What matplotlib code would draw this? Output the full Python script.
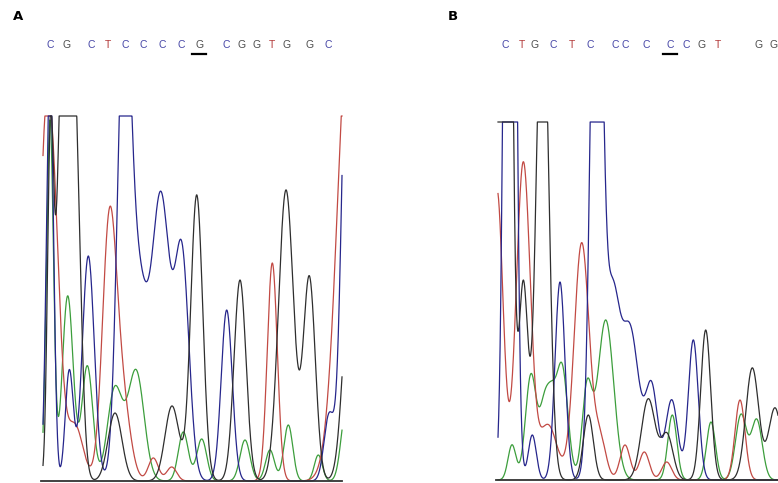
import numpy as np
import matplotlib
matplotlib.use('Agg')
from matplotlib import pyplot as plt

# Chromatogram traces, read off the picture as peaks: scan position, height, width
# channel colours follow the usual convention G=black, C=blue, T=red, A=green

# --- panel A ---
a_scan = (43, 342)
a_top = 365
a_g_pos = [50.5, 64, 75, 115, 172, 196.7, 240, 286, 309.3, 350]
a_g_ht = [330, 500, 330, 68, 75, 286, 201, 291, 203, 200]
a_g_wd = [3, 6, 5.5, 7, 7, 6, 6, 7.5, 6, 7]
a_c_pos = [50, 69.3, 88.3, 124, 138, 161, 182, 226.7, 329, 348]
a_c_ht = [420, 110, 225, 450, 190, 280, 220, 171, 65, 500]
a_c_wd = [3.5, 4, 6, 6.5, 9, 9, 7, 5.5, 5, 6]
a_t_pos = [43, 50, 75, 109.3, 122, 153.3, 171.7, 272.3, 350]
a_t_ht = [80, 360, 55, 250, 80, 23, 14, 218, 480]
a_t_wd = [4, 8, 8, 7, 8, 5, 5, 5, 12]
a_a_pos = [50, 67.7, 87.3, 114, 122, 136, 183.3, 201.7, 245, 270, 288.3, 318.3, 346]
a_a_ht = [360, 185, 115, 85, 15, 110, 49, 42, 41, 31, 56, 26, 70]
a_a_wd = [3.5, 5.5, 5.5, 7, 6, 8, 5, 5, 5, 4.5, 4.5, 4, 5]
a_bases = list('CGCTCCCCGCGGTGGC')
a_base_pos = [50, 66.7, 91.7, 108.3, 125, 143.3, 162.3, 181.7, 199.3, 226.7, 241.7, 256.7, 271.7, 286.7, 310, 328.3]
a_mark = 8

# --- panel B ---
b_scan = (498, 778)
b_top = 358
b_g_pos = [505, 523.3, 542.5, 588.3, 648.3, 667, 705.7, 752.3, 775]
b_g_ht = [1500, 195, 520, 65, 81, 45, 150, 112, 72]
b_g_wd = [5, 4.5, 6, 5, 7, 6, 5, 6.5, 6.5]
b_c_pos = [510, 532.3, 560, 596.5, 612, 630, 651.7, 671.7, 693.3]
b_c_ht = [1500, 45, 198, 700, 170, 150, 90, 80, 140]
b_c_wd = [4.5, 4, 5, 5.5, 7, 9, 6, 6, 5]
b_t_pos = [497, 523.3, 548, 581.7, 600, 625, 644.3, 666.7, 740]
b_t_ht = [290, 317, 55, 237, 40, 35, 28, 18, 80]
b_t_wd = [6, 7, 9, 7.5, 6, 5, 5, 5, 5]
b_a_pos = [512, 531, 545, 552, 561.7, 587, 605.7, 672.3, 711, 741, 756.7]
b_a_ht = [35, 105, 75, 40, 115, 90, 160, 65, 58, 65, 60]
b_a_wd = [4, 5.5, 5, 4, 6, 5, 8, 4.5, 4.5, 5.5, 5.5]
b_bases = list('CTGCTCCCCCCGTGG')
b_base_pos = [505, 521.7, 535, 553.3, 571.7, 590, 615, 625, 646.7, 670, 686.7, 701.7, 718.3, 758.3, 773.3]
b_mark = 9

trace_col = {'G': '#2e2e2e', 'C': '#26268c', 'T': '#c24a44', 'A': '#3c9e3c'}
base_col = {'G': '#4d4d4d', 'C': '#4646a6', 'T': '#b33a3a', 'A': '#3c9e3c'}


def trace(x, pos, ht, wd, top):
    y = np.zeros_like(x)
    for p, h, w in zip(pos, ht, wd):
        y += h * np.exp(-(x - p) ** 2 / (2 * w ** 2))
    return np.minimum(y, top)


def panel(fig, x0, x1, base, scan, top, chans, bases, base_pos, mark):
    W, H = 778, 483
    ax = fig.add_axes([x0 / W, 0, (x1 - x0) / W, 1])
    ax.set_xlim(x0, x1)
    ax.set_ylim(base - H, base)
    ax.axis('off')
    x = np.linspace(scan[0], scan[1], 2000)
    for ch, (pos, ht, wd) in chans:
        ax.plot(x, trace(x, pos, ht, wd, top), color=trace_col[ch], lw=0.9,
                clip_on=False, solid_joinstyle='round')
    ax.plot([scan[0] - 2, scan[1]], [0, 0], color='#333333', lw=1.3, clip_on=False)
    for b, p in zip(bases, base_pos):
        ax.text(p, base - 45, b, color=base_col[b], fontsize=7.5,
                family='Liberation Sans', ha='center', va='center')
    mp = base_pos[mark]
    ax.plot([mp - 7, mp + 7], [base - 54, base - 54], color='black', lw=1.6)
    return ax


fig = plt.figure(figsize=(7.78, 4.83), dpi=100)
fig.patch.set_facecolor('white')

panel(fig, 0, 389, 481, a_scan, a_top,
      [('A', (a_a_pos, a_a_ht, a_a_wd)), ('T', (a_t_pos, a_t_ht, a_t_wd)),
       ('C', (a_c_pos, a_c_ht, a_c_wd)), ('G', (a_g_pos, a_g_ht, a_g_wd))],
      a_bases, a_base_pos, a_mark)
panel(fig, 389, 778, 480, b_scan, b_top,
      [('A', (b_a_pos, b_a_ht, b_a_wd)), ('T', (b_t_pos, b_t_ht, b_t_wd)),
       ('C', (b_c_pos, b_c_ht, b_c_wd)), ('G', (b_g_pos, b_g_ht, b_g_wd))],
      b_bases, b_base_pos, b_mark)

fig.text(18 / 778, 1 - 17 / 483, 'A', fontsize=9.5, fontweight='heavy',
         family='DejaVu Sans', ha='center', va='center')
fig.text(453 / 778, 1 - 17 / 483, 'B', fontsize=9.5, fontweight='heavy',
         family='DejaVu Sans', ha='center', va='center')

fig.savefig('out.png', dpi=100)
